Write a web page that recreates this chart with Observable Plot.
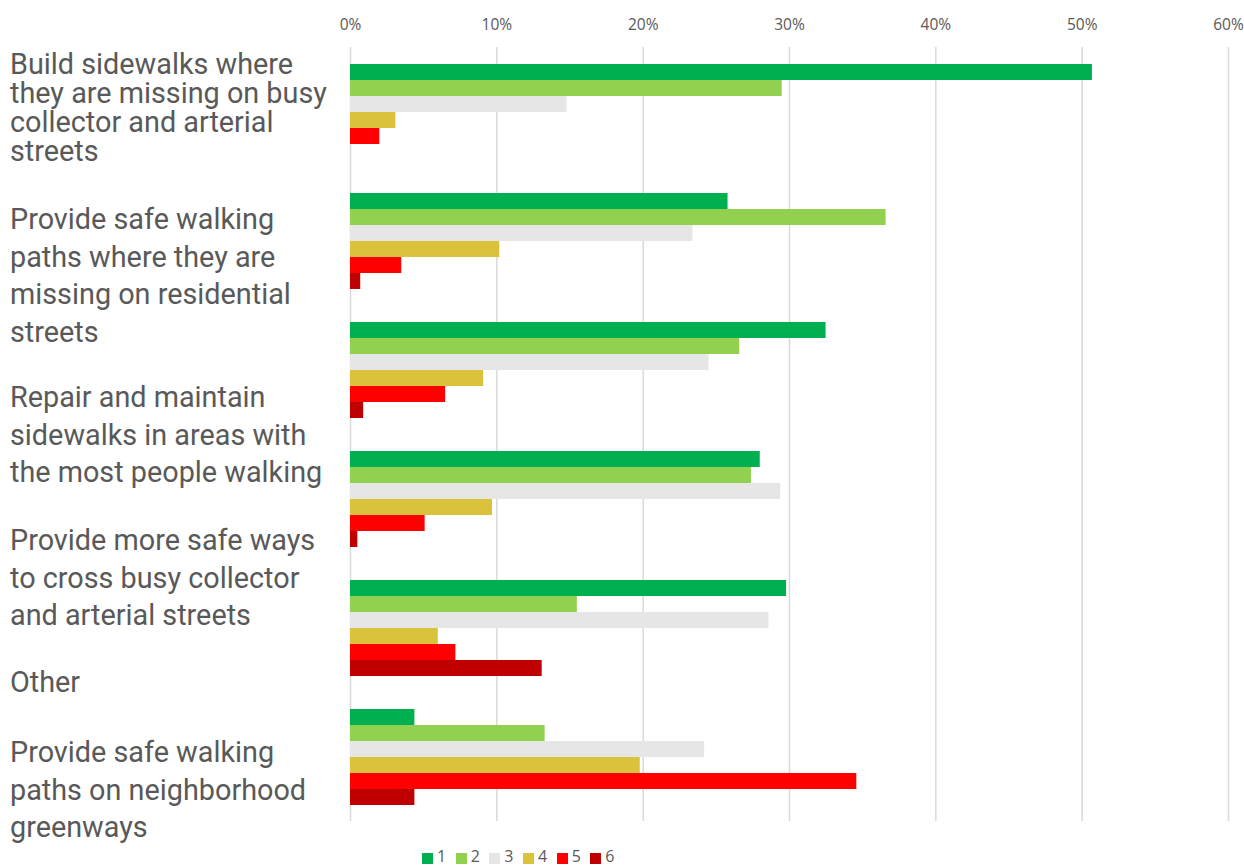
<!DOCTYPE html>
<html>
<head>
<meta charset="utf-8">
<script src="https://cdn.jsdelivr.net/npm/d3@7"></script>
<script src="https://cdn.jsdelivr.net/npm/@observablehq/plot@0.6"></script>
<style>
  html, body { margin: 0; padding: 0; background: #fff; }
  #wrap { position: relative; width: 1244px; height: 867px; overflow: hidden; }
  #wrap svg { position: absolute; left: 0; top: 0; }
  .cat { position: absolute; left: 10px; font-family: Roboto, Lato, sans-serif; font-size: 28.8px; color: #595959; white-space: pre; }
  #legend { position: absolute; left: 422px; top: 849px; display: flex; font-family: "Open Sans", sans-serif; font-size: 16px; color: #595959; line-height: 14px; }
  #legend .item { display: flex; align-items: center; margin-right: 9.5px; }
  #legend .sw { width: 11px; height: 11px; margin-right: 4px; position: relative; top: 2px; }
</style>
</head>
<body>
<div id="wrap"></div>
<script>
// ---- Data ----
const categories = [
  "Build sidewalks where they are missing on busy collector and arterial streets",
  "Provide safe walking paths where they are missing on residential streets",
  "Repair and maintain sidewalks in areas with the most people walking",
  "Provide more safe ways to cross busy collector and arterial streets",
  "Other",
  "Provide safe walking paths on neighborhood greenways"
];
const axisLabels = [
  "Build sidewalks where\nthey are missing on busy\ncollector and arterial\nstreets",
  "Provide safe walking\npaths where they are\nmissing on residential\nstreets",
  "Repair and maintain\nsidewalks in areas with\nthe most people walking",
  "Provide more safe ways\nto cross busy collector\nand arterial streets",
  "Other",
  "Provide safe walking\npaths on neighborhood\ngreenways"
];
const seriesNames = ["1", "2", "3", "4", "5", "6"];
const seriesColors = ["#00b050", "#92d050", "#e6e6e6", "#dac23a", "#ff0000", "#c00000"];
// percent values per rank, one entry per category
const rank1 = [50.7, 25.8, 32.5, 28.0, 29.8, 4.4];
const rank2 = [29.5, 36.6, 26.6, 27.4, 15.5, 13.3];
const rank3 = [14.8, 23.4, 24.5, 29.4, 28.6, 24.2];
const rank4 = [3.1, 10.2, 9.1, 9.7, 6.0, 19.8];
const rank5 = [2.0, 3.5, 6.5, 5.1, 7.2, 34.6];
const rank6 = [0.0, 0.7, 0.9, 0.5, 13.1, 4.4];
const xTicks = [0, 0.1, 0.2, 0.3, 0.4, 0.5, 0.6];

// ---- Build table ----
const seriesValues = [rank1, rank2, rank3, rank4, rank5, rank6];
const table = [];
categories.forEach((c, i) => {
  seriesNames.forEach((s, j) => {
    table.push({category: c, rank: s, value: seriesValues[j][i] / 100});
  });
});

const chart = Plot.plot({
  width: 1244,
  height: 867,
  marginTop: 46,
  marginBottom: 46,
  marginLeft: 350,
  marginRight: 16,
  style: {fontFamily: "'Open Sans', sans-serif", fontSize: "15px", color: "#595959", background: "transparent"},
  x: {domain: [0, 0.6], ticks: xTicks, tickFormat: d3.format(".0%"), label: null},
  fy: {domain: categories, padding: 0, axis: null},
  y: {domain: seriesNames, paddingInner: 0, paddingOuter: 0.94, axis: null},
  color: {domain: seriesNames, range: seriesColors},
  marks: [
    Plot.gridX(xTicks, {stroke: "#d9d9d9", strokeOpacity: 1, strokeWidth: 1.5}),
    Plot.barX(table, {x: "value", y: "rank", fy: "category", fill: "rank", insetTop: 0, insetBottom: 0}),
    Plot.axisX(xTicks, {anchor: "top", tickSize: 0, tickPadding: 18, tickFormat: d3.format(".0%"), fill: "#595959", fontSize: 15.5, label: null})
  ]
});
const wrap = document.getElementById("wrap");
wrap.appendChild(chart);

// ---- Category labels (left text blocks) ----
const labelTops = [50, 201, 379, 522, 664, 734];
const lineHeights = [29, 37.5, 37.5, 37.5, 37.5, 37.5];
axisLabels.forEach((t, i) => {
  const d = document.createElement("div");
  d.className = "cat";
  d.textContent = t;
  d.style.top = labelTops[i] + "px";
  d.style.lineHeight = lineHeights[i] + "px";
  wrap.appendChild(d);
});

// ---- Legend ----
const lg = document.createElement("div");
lg.id = "legend";
seriesNames.forEach((s, i) => {
  const it = document.createElement("div");
  it.className = "item";
  const sw = document.createElement("div");
  sw.className = "sw";
  sw.style.background = seriesColors[i];
  const tx = document.createElement("span");
  tx.textContent = s;
  it.appendChild(sw);
  it.appendChild(tx);
  lg.appendChild(it);
});
wrap.appendChild(lg);
</script>
</body>
</html>
